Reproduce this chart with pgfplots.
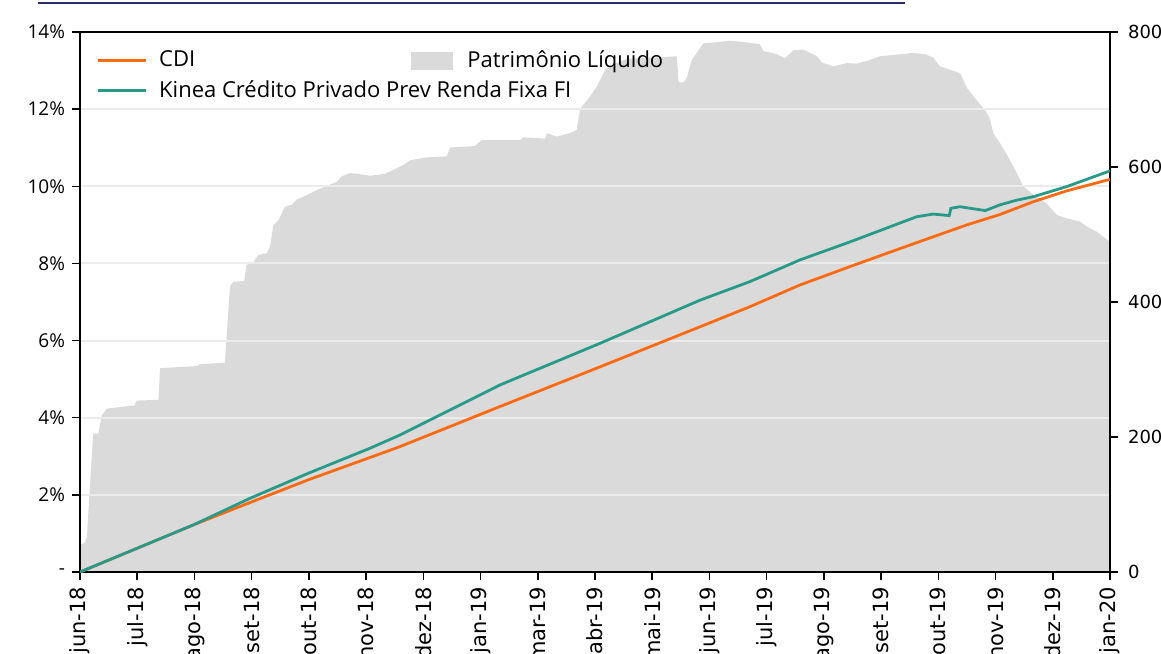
\documentclass[border=0pt]{standalone}
\usepackage{pgfplots}
\pgfplotsset{compat=1.18}
\usepackage{fontspec}
\setmainfont{Open Sans}
\newfontfamily\tickfont{DejaVu Sans}
\definecolor{cdi}{HTML}{FF6A13}
\definecolor{kinea}{HTML}{2A9A88}
\definecolor{plc}{HTML}{DADADA}
\definecolor{gridc}{HTML}{EBEBEB}
\definecolor{navy}{HTML}{2B2B6B}
\begin{document}
\begin{tikzpicture}
% ---------- area (right axis) ----------
\begin{axis}[
  at={(40pt,40.5pt)}, anchor=south west, scale only axis,
  width=515pt, height=270pt,
  xmin=0, xmax=18, ymin=0, ymax=800,
  axis x line=none, axis y line*=right,
  ytick={0,200,...,800},
  tick align=outside, major tick length=4pt,
  every tick/.style={black, line width=0.75pt},
  axis line style={black, line width=0.75pt},
  yticklabel style={font=\tickfont\fontsize{9}{10}\selectfont, xshift=1.5pt},
  /pgf/number format/assume math mode=true,
  legend style={at={(0.3155,0.981)}, anchor=north west, draw=none, fill=none,
    font=\fontsize{11}{12}\selectfont,
    /tikz/every odd column/.append style={column sep=5pt}},
  legend image code/.code={\fill[plc] (0pt,-4.5pt) rectangle (21pt,4.5pt);},
]
\addplot[fill=plc, draw=none] table {
0 40
0.09 44
0.12 52
0.23 205
0.32 205
0.38 232
0.47 242
0.76 245
0.96 247
0.99 254
1.37 255
1.40 302
1.60 303
2.04 305
2.10 308
2.53 310
2.56 344
2.62 423
2.68 430
2.87 431
2.91 455
3.02 458
3.12 470
3.26 472
3.32 482
3.38 514
3.47 521
3.58 541
3.70 544
3.79 552
3.96 558
4.14 566
4.34 573
4.49 578
4.57 586
4.72 591
4.84 590
5.07 587
5.33 590
5.48 596
5.65 603
5.77 610
6.03 614
6.41 616
6.47 629
6.90 631
7.02 640
7.69 640
7.75 644
8.13 642
8.16 650
8.33 645
8.56 650
8.68 655
8.74 686
8.91 704
9.03 719
9.18 744
9.32 752
9.55 760
10.43 764
10.46 726
10.54 725
10.60 731
10.69 758
10.89 783
11.36 787
11.50 786
11.88 782
11.94 772
12.18 767
12.32 761
12.47 773
12.64 774
12.88 764
12.96 755
13.17 749
13.40 754
13.57 753
13.78 758
13.98 764
14.33 767
14.56 769
14.77 767
14.91 762
15.03 749
15.21 744
15.38 739
15.50 717
15.67 699
15.82 684
15.90 672
15.96 650
16.08 635
16.20 618
16.34 596
16.49 571
16.66 559
16.89 546
17.07 529
17.24 524
17.48 519
17.59 512
17.77 504
18.00 489
} \closedcycle;
\addlegendentry{Patrimônio Líquido}
\end{axis}
% ---------- lines (left axis) ----------
\begin{axis}[
  at={(40pt,40.5pt)}, anchor=south west, scale only axis,
  width=515pt, height=270pt,
  xmin=0, xmax=18, ymin=0, ymax=14,
  xtick={0,...,18},
  xticklabels={jun-18,jul-18,ago-18,set-18,out-18,nov-18,dez-18,jan-19,mar-19,abr-19,mai-19,jun-19,jul-19,ago-19,set-19,out-19,nov-19,dez-19,jan-20},
  ytick={0,2,...,14},
  yticklabels={-,2\%,4\%,6\%,8\%,10\%,12\%,14\%},
  xtick pos=bottom, ytick pos=left,
  tick align=outside, major tick length=4pt,
  every tick/.style={black, line width=0.75pt},
  axis line style={black, line width=0.75pt},
  ymajorgrids, grid style={gridc, line width=1pt},
  xticklabel style={font=\tickfont\fontsize{10.5}{11}\selectfont, rotate=90, anchor=east},
  yticklabel style={font=\fontsize{9.5}{10}\selectfont},
  legend style={at={(0.0097,0.981)}, anchor=north west, draw=none, fill=none,
    font=\fontsize{11}{12}\selectfont, row sep=1.5pt,
    /tikz/every odd column/.append style={column sep=4pt}},
  legend cell align=left,
  legend image code/.code={\draw[#1] (0pt,0pt) -- (24pt,0pt);},
]
\addplot[cdi, line width=1.4pt] table {
0 0
0.99 0.61
1.98 1.22
2.97 1.80
3.99 2.39
5.07 2.97
5.59 3.25
7.34 4.29
9.09 5.32
10.84 6.36
11.71 6.88
12.58 7.44
13.46 7.92
14.34 8.39
14.91 8.69
15.50 9.00
16.08 9.27
16.66 9.60
17.24 9.88
18 10.18
};
\addlegendentry{CDI}
\addplot[kinea, line width=1.4pt] table {
0 0
0.99 0.61
1.98 1.22
2.97 1.91
3.99 2.56
5.07 3.21
5.59 3.55
7.34 4.85
9.09 5.93
10.84 7.05
11.71 7.53
12.58 8.09
13.46 8.56
14.62 9.21
14.91 9.28
15.19 9.24
15.22 9.43
15.38 9.47
15.82 9.37
16.08 9.52
16.37 9.64
16.66 9.73
17.24 9.99
18 10.40
};
\addlegendentry{Kinea Crédito Privado Prev Renda Fixa FI}
\end{axis}
\draw[navy, line width=0.6pt] (19pt,325pt) -- (452.5pt,325pt);
\pgfresetboundingbox
\useasboundingbox (0pt,0pt) rectangle (580.5pt,326.5pt);
\end{tikzpicture}
\end{document}
